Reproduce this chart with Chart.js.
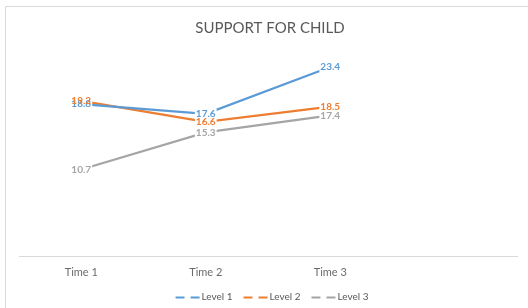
<!DOCTYPE html>
<html>
<head>
<meta charset="utf-8">
<script src="https://cdn.jsdelivr.net/npm/chart.js@4/dist/chart.umd.min.js"></script>
<style>
html,body{margin:0;padding:0;background:#fff;}
#wrap{width:528px;height:308px;position:relative;}
</style>
</head>
<body>
<div id="wrap"><canvas id="c" width="528" height="308"></canvas></div>
<script>
const categories = ['Time 1', 'Time 2', 'Time 3', ''];
const level1 = [18.8, 17.6, 23.4];
const level2 = [19.2, 16.6, 18.5];
const level3 = [10.7, 15.3, 17.4];
const seriesNames = ['Level 1', 'Level 2', 'Level 3'];
const chartTitle = 'SUPPORT FOR CHILD';

const colors = ['#5B9BD5', '#ED7D31', '#A5A5A5'];
const FONT = 'Lato, "Open Sans", sans-serif';

const frame = {
  id: 'frame',
  beforeDraw(chart) {
    const ctx = chart.ctx;
    ctx.save();
    ctx.fillStyle = '#fff';
    ctx.fillRect(0, 0, chart.width, chart.height);
    ctx.strokeStyle = '#d9d9d9';
    ctx.lineWidth = 1;
    ctx.beginPath();
    ctx.moveTo(5.5, chart.height);
    ctx.lineTo(5.5, 6.5);
    ctx.lineTo(chart.width, 6.5);
    ctx.stroke();
    ctx.fillStyle = '#595959';
    ctx.font = '15px ' + FONT;
    ctx.textAlign = 'center';
    ctx.textBaseline = 'middle';
    ctx.fillText(chartTitle, 270, 28);
    ctx.restore();
  }
};

const dataLabels = {
  id: 'dataLabels',
  afterDatasetsDraw(chart) {
    const ctx = chart.ctx;
    ctx.save();
    ctx.font = 'bold 10px ' + FONT;
    ctx.textAlign = 'center';
    ctx.textBaseline = 'middle';
    const items = [];
    chart.data.datasets.forEach((ds, i) => {
      const meta = chart.getDatasetMeta(i);
      meta.data.forEach((pt, j) => {
        const v = ds.data[j];
        if (v == null) return;
        items.push({x: pt.x, y: pt.y, t: v.toFixed(1), c: ds.borderColor});
      });
    });
    ctx.fillStyle = '#fff';
    items.forEach(it => {
      const w = ctx.measureText(it.t).width;
      ctx.fillRect(it.x - w / 2 - 1, it.y - 5, w + 2, 10);
    });
    items.forEach(it => {
      ctx.fillStyle = it.c;
      ctx.fillText(it.t, it.x, it.y);
    });
    ctx.restore();
  }
};

const customLegend = {
  id: 'customLegend',
  afterDraw(chart) {
    const ctx = chart.ctx;
    ctx.save();
    ctx.font = '10px ' + FONT;
    ctx.textBaseline = 'middle';
    ctx.textAlign = 'left';
    const ds = chart.data.datasets;
    const marker = 24, gapT = 2, gapI = 11;
    let total = 0;
    const widths = ds.map(d => ctx.measureText(d.label).width);
    widths.forEach((w, i) => { total += marker + gapT + w + (i ? gapI : 0); });
    let x = 272 - total / 2;
    const y = 297;
    ds.forEach((d, i) => {
      ctx.strokeStyle = d.borderColor;
      ctx.lineWidth = 2;
      ctx.beginPath();
      ctx.moveTo(x, y + 0.5); ctx.lineTo(x + 9, y + 0.5);
      ctx.moveTo(x + 15, y + 0.5); ctx.lineTo(x + 24, y + 0.5);
      ctx.stroke();
      ctx.fillStyle = '#595959';
      ctx.fillText(d.label, x + marker + gapT, y);
      x += marker + gapT + widths[i] + gapI;
    });
    ctx.restore();
  }
};

const seriesValues = [level1, level2, level3];
new Chart(document.getElementById('c'), {
  type: 'line',
  data: {
    labels: categories,
    datasets: seriesValues.map((vals, i) => ({
      label: seriesNames[i],
      data: vals,
      borderColor: colors[i],
      backgroundColor: colors[i],
      borderWidth: 2.25,
      pointRadius: 0,
      tension: 0,
      fill: false
    }))
  },
  options: {
    responsive: false,
    animation: false,
    devicePixelRatio: 1,
    layout: { padding: { left: 19, right: 11, top: 54, bottom: 0 } },
    plugins: {
      legend: { display: false },
      title: { display: false },
      tooltip: { enabled: false }
    },
    scales: {
      x: {
        offset: true,
        grid: { display: false, drawTicks: false },
        border: { display: true, color: '#d9d9d9', width: 1 },
        ticks: { color: '#6b6b6b', font: { family: FONT, size: 11 }, padding: 10, maxRotation: 0, autoSkip: false },
        afterFit(scale) { scale.height = 52; }
      },
      y: {
        display: false,
        min: 0,
        max: 25
      }
    }
  },
  plugins: [frame, dataLabels, customLegend]
});
</script>
</body>
</html>
